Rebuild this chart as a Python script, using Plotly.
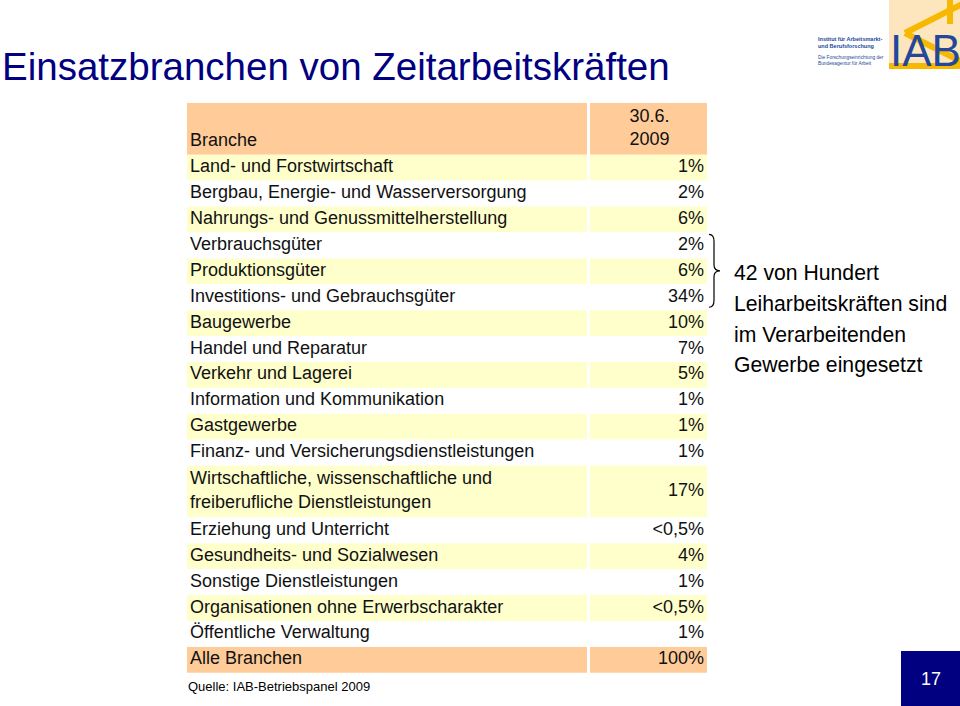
import plotly.graph_objects as go

W, H = 960, 706

title_text = "Einsatzbranchen von Zeitarbeitskräften"
header_branche = "Branche"
header_datum = "30.6.<br>2009"

branchen = [
    "Land- und Forstwirtschaft",
    "Bergbau, Energie- und Wasserversorgung",
    "Nahrungs- und Genussmittelherstellung",
    "Verbrauchsgüter",
    "Produktionsgüter",
    "Investitions- und Gebrauchsgüter",
    "Baugewerbe",
    "Handel und Reparatur",
    "Verkehr und Lagerei",
    "Information und Kommunikation",
    "Gastgewerbe",
    "Finanz- und Versicherungsdienstleistungen",
    "Wirtschaftliche, wissenschaftliche und<br>freiberufliche Dienstleistungen",
    "Erziehung und Unterricht",
    "Gesundheits- und Sozialwesen",
    "Sonstige Dienstleistungen",
    "Organisationen ohne Erwerbscharakter",
    "Öffentliche Verwaltung",
    "Alle Branchen",
]
anteile = [
    "1%", "2%", "6%", "2%", "6%", "34%", "10%", "7%", "5%", "1%", "1%", "1%",
    "17%", "&lt;0,5%", "4%", "1%", "&lt;0,5%", "1%", "100%",
]
note_lines = ["42 von Hundert", "Leiharbeitskräften sind", "im Verarbeitenden", "Gewerbe eingesetzt"]
quelle = "Quelle: IAB-Betriebspanel 2009"
seite = "17"

PEACH = "#FFCC99"
YELLOW = "#FFFFCC"
NAVY = "#000080"
FONT = "Liberation Sans, Arial, sans-serif"
TXT = "#111111"

# table geometry (pixel space of the slide)
TOP = 103
LINE_H = 25.9
COL1 = (187, 587)
COL2 = (590, 707)

row_colors = []
for i, b in enumerate(branchen):
    if b == "Alle Branchen":
        row_colors.append(PEACH)
    elif i % 2 == 0:
        row_colors.append(YELLOW)
    else:
        row_colors.append("white")

# row heights from number of text lines
all_rows = [header_branche + "<br>"] + branchen
heights = [LINE_H * (r.count("<br>") + 1) for r in all_rows]
centers = []
y = TOP
for h in heights:
    centers.append(y + h / 2)
    y += h
colors = [PEACH] + row_colors

fig = go.Figure()
for (x0, x1) in (COL1, COL2):
    fig.add_trace(go.Bar(
        orientation="h",
        y=centers, x=[x1 - x0] * len(centers), base=[x0] * len(centers),
        width=heights, marker=dict(color=colors, line=dict(width=0)),
        hoverinfo="skip", showlegend=False,
    ))

# header texts
fig.add_trace(go.Scatter(
    x=[COL1[0] + 3], y=[TOP + 1.5 * LINE_H], mode="text", text=[header_branche],
    textposition="middle right", textfont=dict(family=FONT, size=18, color=TXT),
    hoverinfo="skip", showlegend=False, cliponaxis=False,
))
fig.add_trace(go.Scatter(
    x=[(COL2[0] + COL2[1]) / 2 + 1], y=[centers[0]], mode="text", text=[header_datum],
    textposition="middle center", textfont=dict(family=FONT, size=18, color=TXT),
    hoverinfo="skip", showlegend=False, cliponaxis=False,
))
# body texts
fig.add_trace(go.Scatter(
    x=[COL1[0] + 3] * len(branchen), y=centers[1:], mode="text", text=branchen,
    textposition="middle right", textfont=dict(family=FONT, size=18, color=TXT),
    hoverinfo="skip", showlegend=False, cliponaxis=False,
))
fig.add_trace(go.Scatter(
    x=[COL2[1] - 3] * len(anteile), y=centers[1:], mode="text", text=anteile,
    textposition="middle left", textfont=dict(family=FONT, size=18, color=TXT),
    hoverinfo="skip", showlegend=False, cliponaxis=False,
))

shapes = []
# curly brace for Verarbeitendes Gewerbe (rows 4-6)
bx0, bx1, btip = 709, 714, 720
yt, yb = centers[4] - 11, centers[6] + 10
ym = (yt + yb) / 2
path = (f"M {bx0},{yt} Q {bx1},{yt} {bx1},{yt+7} "
        f"L {bx1},{ym-6} Q {bx1},{ym} {btip},{ym} "
        f"Q {bx1},{ym} {bx1},{ym+6} "
        f"L {bx1},{yb-7} Q {bx1},{yb} {bx0},{yb}")
shapes.append(dict(type="path", xref="x", yref="y", path=path,
                   line=dict(color="black", width=1.2)))
# page number box
shapes.append(dict(type="rect", xref="x", yref="y", x0=901, x1=961, y0=651, y1=707,
                   fillcolor=NAVY, line=dict(width=0)))
# logo
shapes.append(dict(type="rect", xref="x", yref="y", x0=889, x1=961, y0=-1, y1=68,
                   fillcolor="#FDE6BD", line=dict(width=0), layer="below"))
LOGO_Y = "#F6B800"
for (a, b, c, d) in [(962, 4, 905, 33), (905, 33, 962, 62), (950, -1, 950, 24), (889, 66, 961, 66)]:
    shapes.append(dict(type="line", xref="x", yref="y", x0=a, y0=b, x1=c, y1=d,
                       line=dict(color=LOGO_Y, width=6), layer="below"))

annotations = []
annotations.append(dict(text=title_text, xref="x", yref="y", x=0, y=66,
                        xanchor="left", yanchor="middle", showarrow=False,
                        font=dict(family=FONT, size=38.5, color=NAVY)))
for i, line in enumerate(note_lines):
    annotations.append(dict(text=line, xref="x", yref="y", x=732, y=272 + i * 31,
                            xanchor="left", yanchor="middle", showarrow=False,
                            font=dict(family=FONT, size=21.2, color="black")))
annotations.append(dict(text=quelle, xref="x", yref="y", x=186, y=686,
                        xanchor="left", yanchor="middle", showarrow=False,
                        font=dict(family=FONT, size=13, color="black")))
annotations.append(dict(text=seite, xref="x", yref="y", x=931, y=679,
                        xanchor="center", yanchor="middle", showarrow=False,
                        font=dict(family=FONT, size=18, color="white")))
LOGO_B = "#23479A"
annotations.append(dict(text="IAB", xref="x", yref="y", x=925, y=50,
                        xanchor="center", yanchor="middle", showarrow=False,
                        font=dict(family=FONT, size=44, color=LOGO_B)))
annotations.append(dict(text="<b>Institut für Arbeitsmarkt-<br>und Berufsforschung</b>",
                        xref="x", yref="y", x=816, y=42, xanchor="left", yanchor="middle",
                        align="left", showarrow=False,
                        font=dict(family=FONT, size=5.5, color=LOGO_B)))
annotations.append(dict(text="Die Forschungseinrichtung der<br>Bundesagentur für Arbeit",
                        xref="x", yref="y", x=816, y=60, xanchor="left", yanchor="middle",
                        align="left", showarrow=False,
                        font=dict(family=FONT, size=4.8, color=LOGO_B)))

fig.update_layout(
    width=W, height=H,
    margin=dict(l=0, r=0, t=0, b=0),
    paper_bgcolor="white", plot_bgcolor="white",
    xaxis=dict(range=[0, W], visible=False, fixedrange=True),
    yaxis=dict(range=[H, 0], visible=False, fixedrange=True),
    shapes=shapes, annotations=annotations,
    showlegend=False, barmode="overlay",
)
fig.write_html("out.html", config={"displayModeBar": False},
               post_script="document.body.style.margin='0';")
